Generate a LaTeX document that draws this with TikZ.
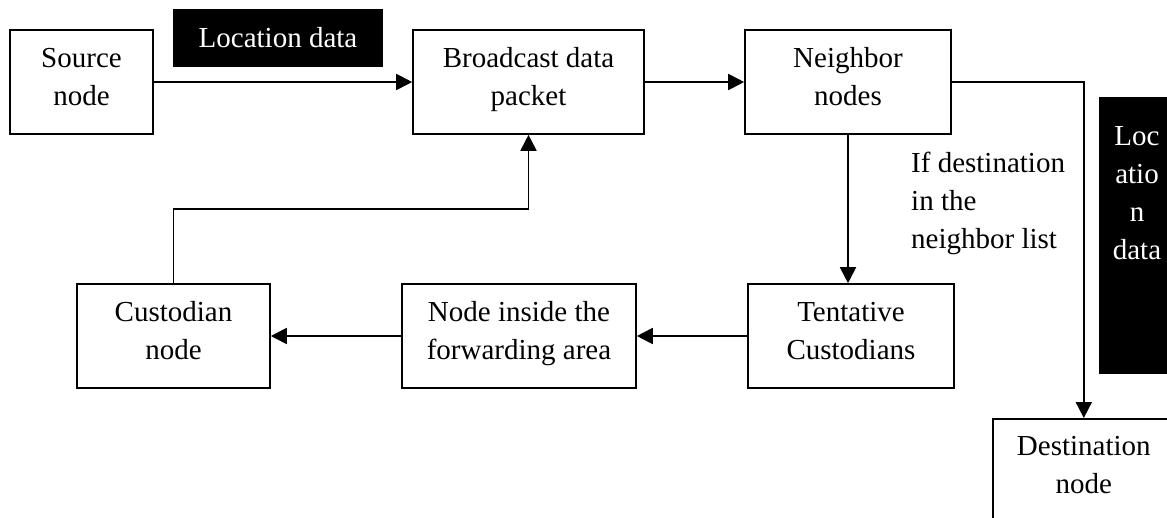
\documentclass[tikz,border=0pt]{standalone}
\usepackage{fontspec}
\setmainfont{Liberation Serif}
\usetikzlibrary{arrows.meta, positioning, calc}

\newcommand{\boxstrut}{\rule[-11pt]{0pt}{38pt}}

\tikzset{
    stepbox/.style={draw, line width=1.6pt, align=center, inner sep=0pt,
        minimum height=104pt, font=\fontsize{29}{38}\selectfont,
        execute at begin node=\boxstrut, execute at end node=\boxstrut},
    tagbox/.style={fill=black, inner sep=0pt, text=white,
        font=\fontsize{29}{38}\selectfont},
    flow/.style={line width=1.8pt, -{Triangle[length=16pt, width=16pt]}},
}

\begin{document}
\begin{tikzpicture}[x=1pt, y=-1pt]
    \useasboundingbox (0,0) rectangle (1167,517);

    % top row
    \node[stepbox, minimum width=143pt] (source) at (81.5,82) {Source\\node};
    \node[stepbox, minimum width=231pt] (broadcast) at (528.5,82) {Broadcast data\\packet};
    \node[stepbox, minimum width=206pt] (neighbor) at (848,82) {Neighbor\\nodes};

    % bottom row
    \node[stepbox, minimum width=206pt] (tentative) at (851,336) {Tentative\\Custodians};
    \node[stepbox, minimum width=234pt] (forward) at (519,336) {Node inside the\\forwarding area};
    \node[stepbox, minimum width=193pt] (custodian) at (173.5,336) {Custodian\\node};

    \node[stepbox, minimum width=182pt, anchor=north west] (dest) at (992,418) {Destination\\node};

    % black labels
    \node[tagbox, minimum width=210pt, minimum height=58pt] (locdata) at (278,38) {Location data};
    \node[tagbox, minimum width=76pt, minimum height=277pt, anchor=north west] (locbar) at (1099,97) {};
    \node[text=white, align=center, inner sep=0pt, anchor=north,
        font=\fontsize{29}{38}\selectfont] (loctext) at (1137,126) {Loc\\atio\\n\\data};

    \node[align=left, inner sep=0pt, anchor=north west,
        font=\fontsize{29}{38}\selectfont] (cond) at (911,152) {If destination\\in the\\neighbor list};

    % connectors
    \coordinate (bend) at (174,209);
    \draw[flow] (source) -- (broadcast);
    \draw[flow] (broadcast) -- (neighbor);
    \draw[flow] (neighbor.south) -- (neighbor.south |- tentative.north);
    \draw[flow] (neighbor.east) -| (dest.north);
    \draw[flow] (tentative) -- (forward);
    \draw[flow] (forward) -- (custodian);
    \draw[flow] (custodian.north) -- (custodian.north |- bend) -| (broadcast.south);
\end{tikzpicture}
\end{document}
